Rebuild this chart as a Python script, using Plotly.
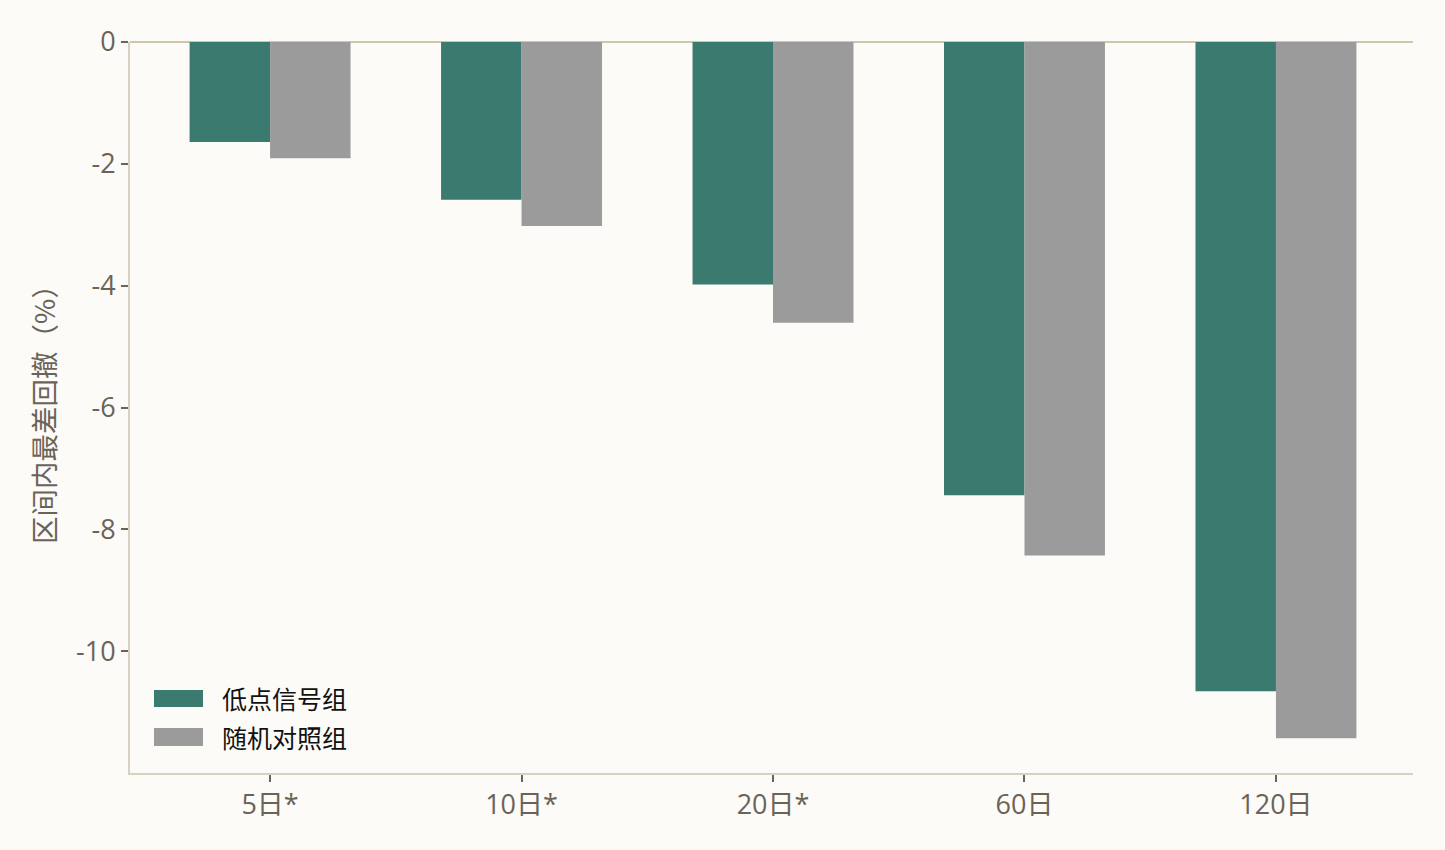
import plotly.graph_objects as go

categories = ["5日*", "10日*", "20日*", "60日", "120日"]
signal_vals = [-1.64, -2.59, -3.98, -7.44, -10.66]
random_vals = [-1.91, -3.02, -4.61, -8.43, -11.43]
series_names = ["低点信号组", "随机对照组"]
series_colors = ["#3b7a6e", "#9b9b9b"]
y_ticks = [0, -2, -4, -6, -8, -10]
y_ticklabels = ["0", "-2", "-4", "-6", "-8", "-10"]

TICKFONT = "Open Sans, Noto Sans CJK SC"
CJK = "Noto Sans CJK SC"
TXT = "#6b6358"

fig = go.Figure()
for name, vals, col in zip(series_names, [signal_vals, random_vals], series_colors):
    fig.add_trace(go.Bar(name=name, x=categories, y=vals,
                         marker=dict(color=col, line=dict(width=0)),
                         showlegend=False))

# legend drawn as swatches + text (wide rectangular keys like the original)
legend_rows = [(0.0903, 0.1135, 0.1026), (0.0369, 0.0616, 0.0492)]
for (y0, y1, yc), name, col in zip(legend_rows, series_names, series_colors):
    fig.add_shape(type="rect", xref="paper", yref="paper",
                  x0=0.0187, x1=0.0569, y0=y0, y1=y1,
                  fillcolor=col, line=dict(width=0))
    fig.add_annotation(xref="paper", yref="paper", x=0.0705, y=yc,
                       text=name, showarrow=False, xanchor="left", yanchor="middle",
                       font=dict(family=CJK, size=25, color="#111111"))

fig.update_layout(
    width=1445, height=850,
    paper_bgcolor="#fcfbf7", plot_bgcolor="#fcfbf7",
    margin=dict(l=130, r=32, t=42, b=77),
    barmode="group", bargap=0.36, bargroupgap=0,
    font=dict(family=TICKFONT, size=27, color=TXT),
    showlegend=False,
)
fig.update_xaxes(range=[-0.557, 4.545], showline=True, linecolor="#d8d0c0", linewidth=2,
                 ticks="outside", ticklen=7, tickcolor=TXT, tickwidth=2,
                 showgrid=False, tickfont=dict(family=TICKFONT, size=27, color=TXT))
fig.update_yaxes(range=[-12, 0], showline=True, linecolor="#d8d0c0", linewidth=2,
                 ticks="outside", ticklen=7, tickcolor=TXT, tickwidth=2,
                 tickvals=y_ticks, ticktext=y_ticklabels,
                 showgrid=False, zeroline=True, zerolinecolor="#cfc6ad", zerolinewidth=2,
                 title=dict(text="区间内最差回撤（%）", font=dict(family=CJK, size=27.5, color=TXT), standoff=12),
                 tickfont=dict(family=TICKFONT, size=27, color=TXT))

fig.write_html("out.html")
